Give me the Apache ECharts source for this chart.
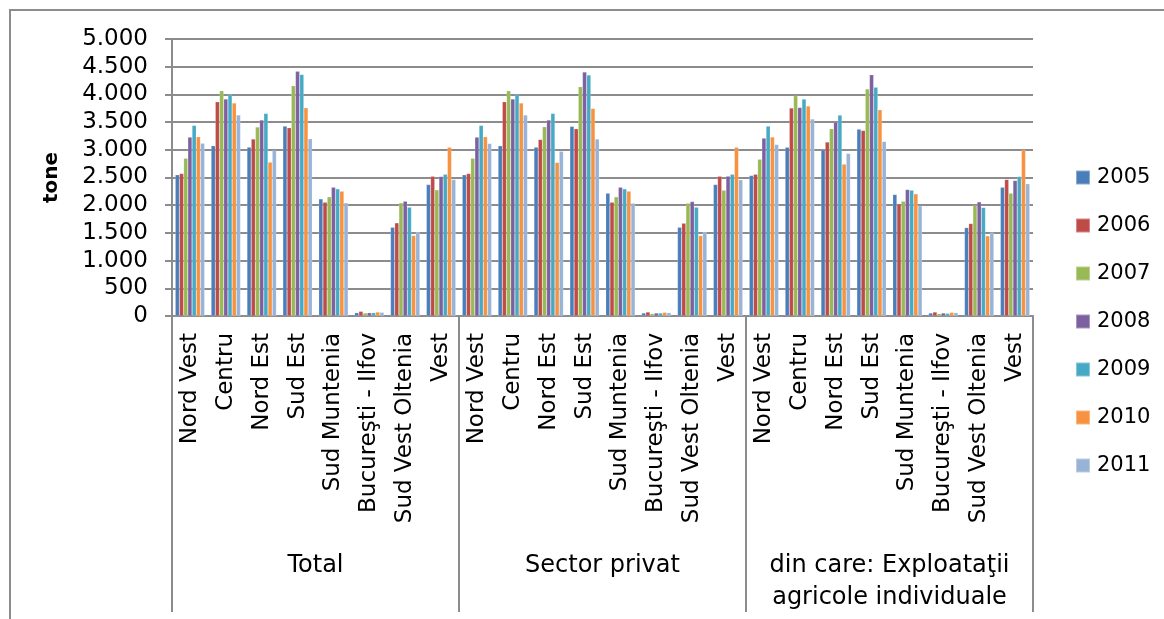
<!DOCTYPE html>
<html>
<head>
<meta charset="utf-8">
<script src="https://cdn.jsdelivr.net/npm/echarts@6/dist/echarts.min.js"></script>
<style>
html,body{margin:0;padding:0;background:#fff;}
#chart{width:1164px;height:619px;}
</style>
</head>
<body>
<div id="chart"></div>
<script>
// Data
const regions = ['Nord Vest', 'Centru', 'Nord Est', 'Sud Est', 'Sud Muntenia', 'Bucureşti - Ilfov', 'Sud Vest Oltenia', 'Vest'];
const groups = ['Total', 'Sector privat', 'din care: Exploataţii\nagricole individuale'];
const years = ['2005', '2006', '2007', '2008', '2009', '2010', '2011'];
const yTicks = [0, 500, 1000, 1500, 2000, 2500, 3000, 3500, 4000, 4500, 5000];
const yTitle = 'tone';

// values per year: Total (8 regions), Sector privat (8), Exploataţii agricole individuale (8)
const v2005 = [2548, 3072, 3048, 3428, 2114, 60, 1602, 2373,  2548, 3072, 3048, 3422, 2217, 54, 1602, 2373,  2536, 3048, 3000, 3373, 2193, 54, 1596, 2325];
const v2006 = [2572, 3867, 3193, 3398, 2054, 84, 1681, 2524,  2572, 3867, 3187, 3380, 2054, 72, 1675, 2524,  2560, 3753, 3139, 3349, 2024, 72, 1669, 2464];
const v2007 = [2849, 4066, 3410, 4157, 2151, 54, 2042, 2277,  2849, 4066, 3416, 4139, 2151, 42, 2036, 2271,  2831, 3976, 3380, 4096, 2072, 42, 1994, 2217];
const v2008 = [3229, 3916, 3536, 4416, 2325, 60, 2072, 2518,  3229, 3916, 3536, 4404, 2325, 54, 2066, 2524,  3211, 3765, 3500, 4355, 2283, 54, 2060, 2446];
const v2009 = [3440, 4000, 3657, 4361, 2295, 60, 1964, 2560,  3440, 4000, 3657, 4349, 2295, 54, 1964, 2560,  3428, 3916, 3627, 4127, 2271, 48, 1958, 2518];
const v2010 = [3235, 3843, 2777, 3759, 2253, 72, 1452, 3048,  3235, 3843, 2771, 3747, 2253, 66, 1452, 3048,  3229, 3789, 2741, 3723, 2205, 66, 1446, 3000];
const v2011 = [3120, 3627, 2988, 3199, 2042, 66, 1518, 2464,  3114, 3627, 2976, 3193, 2036, 60, 1518, 2458,  3096, 3554, 2934, 3151, 1988, 60, 1506, 2386];

const seriesValues = [v2005, v2006, v2007, v2008, v2009, v2010, v2011];
const colors = ['#4A7EBB', '#BE4B48', '#98B954', '#7D60A0', '#46AAC5', '#F69240', '#97B3D8'];

const categories = [];
groups.forEach(() => regions.forEach(r => categories.push(r)));

const FONT = 'DejaVu Sans';
const GRAY = '#8c8c8c';

function fmt(v) {
  return String(v).replace(/\B(?=(\d{3})+(?!\d))/g, '.');
}

const chart = echarts.init(document.getElementById('chart'), null, {renderer: 'canvas'});

const option = {
  animation: false,
  backgroundColor: '#fff',
  textStyle: {fontFamily: FONT, color: '#000'},
  graphic: [{
    type: 'rect',
    shape: {x: 10, y: 10, width: 1300, height: 800},
    style: {fill: 'none', stroke: GRAY, lineWidth: 2},
    silent: true, z: -10
  }, {
    type: 'text',
    x: 52,
    y: 177.5,
    rotation: Math.PI / 2,
    style: {
      text: yTitle,
      font: 'bold 20px "DejaVu Sans"',
      fill: '#000',
      textAlign: 'center',
      textVerticalAlign: 'middle'
    },
    silent: true
  }],
  grid: {left: 172, right: 131, top: 39, bottom: 303, containLabel: false},
  legend: {
    orient: 'vertical',
    left: 1075,
    top: 167,
    padding: 0,
    itemWidth: 14,
    itemHeight: 14,
    itemGap: 27,
    icon: 'rect',
    textStyle: {fontFamily: FONT, fontSize: 21, color: '#000', lineHeight: 21, padding: [0, 0, 0, 2]},
    data: years
  },
  xAxis: [{
    type: 'category',
    data: categories,
    position: 'bottom',
    axisLine: {show: true, lineStyle: {color: GRAY, width: 2}},
    axisTick: {show: false},
    axisLabel: {interval: 0, rotate: 90, margin: 17, fontFamily: FONT, fontSize: 23, color: '#000'},
    splitLine: {show: false}
  }, {
    type: 'category',
    data: groups,
    position: 'bottom',
    axisLine: {show: false},
    axisTick: {show: true, interval: 0, length: 296, lineStyle: {color: GRAY, width: 2}},
    axisLabel: {interval: 0, margin: 234, fontFamily: FONT, fontSize: 24, lineHeight: 32, color: '#000', verticalAlign: 'top'},
    splitLine: {show: false}
  }],
  yAxis: {
    type: 'value',
    min: yTicks[0],
    max: yTicks[yTicks.length - 1],
    interval: yTicks[1] - yTicks[0],
    axisLine: {show: true, lineStyle: {color: GRAY, width: 2}},
    axisTick: {show: true, length: 7, lineStyle: {color: GRAY, width: 2}},
    axisLabel: {margin: 24, fontFamily: FONT, fontSize: 23, color: '#000', formatter: fmt},
    splitLine: {show: true, lineStyle: {color: GRAY, width: 2}}
  },
  series: years.map((y, i) => ({
    name: y,
    type: 'bar',
    xAxisIndex: 0,
    data: seriesValues[i],
    barGap: '0%',
    barCategoryGap: '18%',
    itemStyle: {color: colors[i], borderColor: 'rgba(255,255,255,0.35)', borderWidth: 0.5}
  }))
};

chart.setOption(option);
</script>
</body>
</html>
